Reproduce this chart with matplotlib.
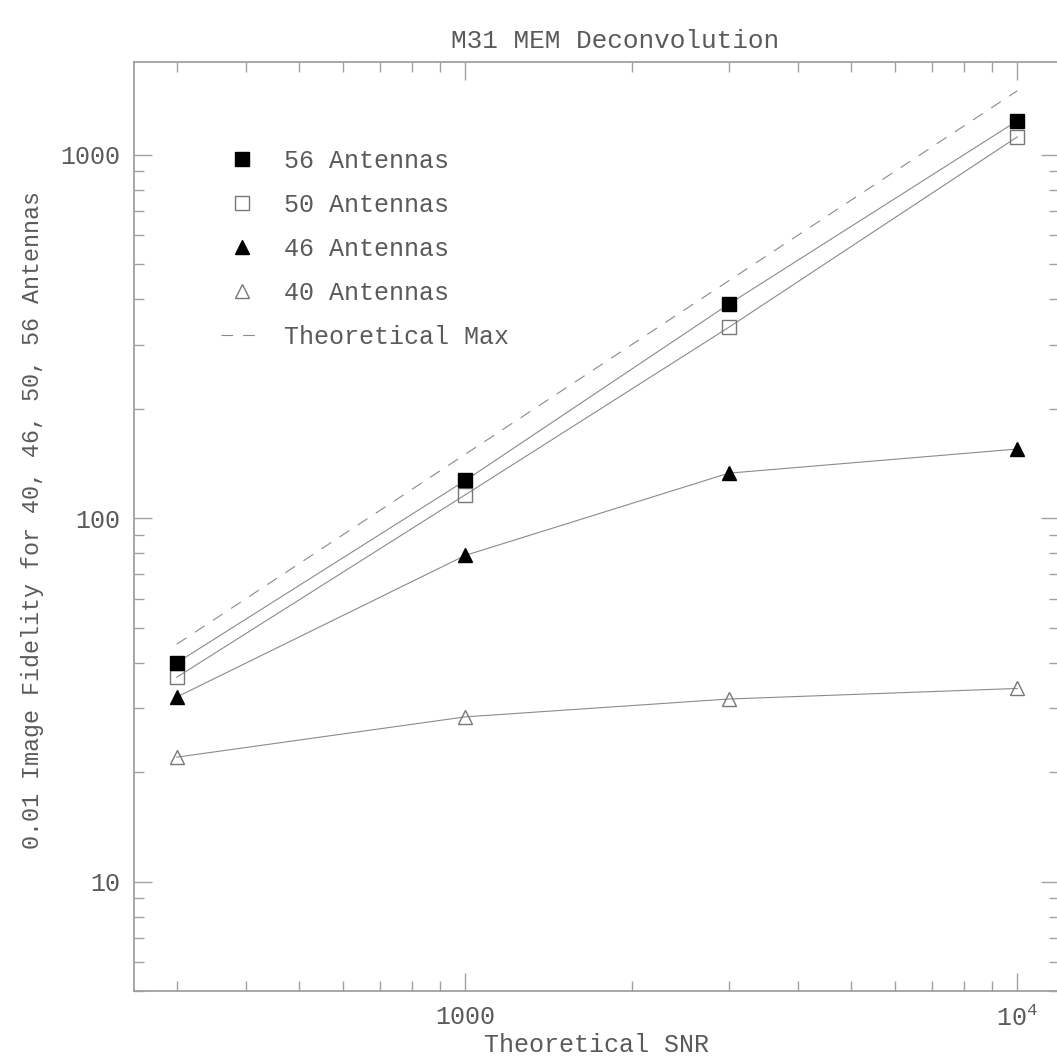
import matplotlib
matplotlib.use("Agg")
import matplotlib.pyplot as plt
from matplotlib.lines import Line2D
from matplotlib.ticker import FixedLocator, FixedFormatter, NullFormatter

# ---- data ----
snr = [300, 1000, 3000, 10000]
ant56 = [40, 127, 388, 1240]
ant50 = [36.5, 116, 335, 1120]
ant46 = [32.2, 79, 133, 155]
ant40 = [22, 28.4, 31.8, 34]
theory_max = [45, 150, 450, 1500]
series_labels = ["56 Antennas", "50 Antennas", "46 Antennas", "40 Antennas", "Theoretical Max"]
xtick_vals = [1000, 10000]
xtick_labels = ["1000", r"$10^4$"]
ytick_vals = [10, 100, 1000]
ytick_labels = ["10", "100", "1000"]

FONT = "Liberation Mono"
TXT = "#5a5a5a"
LINE = "#8a8a8a"
AX = "#a0a0a0"
FS = 18

plt.rcParams["font.family"] = [FONT, "DejaVu Sans"]
plt.rcParams["mathtext.fontset"] = "custom"
plt.rcParams["mathtext.rm"] = FONT

W, H = 1057, 1064
fig = plt.figure(figsize=(W / 100, H / 100), dpi=100)
L, R, T, B = 134, 1059, 62, 991
ax = fig.add_axes([L / W, 1 - B / H, (R - L) / W, (B - T) / H])
ax.set_xscale("log")
ax.set_yscale("log")
ax.set_xlim(251, 11900)
ax.set_ylim(5, 1800)

lw = 0.8
ms = 10
ax.plot(snr, theory_max, color=LINE, lw=lw, ls=(0, (10.5, 9)))
ax.plot(snr, ant40, color=LINE, lw=lw, marker="^", ms=ms, mfc="none", mec="#777777", mew=1.0)
ax.plot(snr, ant46, color=LINE, lw=lw, marker="^", ms=ms, mfc="black", mec="black", mew=1.0)
ax.plot(snr, ant50, color=LINE, lw=lw, marker="s", ms=ms - 0.5, mfc="none", mec="#777777", mew=1.0)
ax.plot(snr, ant56, color=LINE, lw=lw, marker="s", ms=ms - 0.5, mfc="black", mec="black", mew=1.0)

for s in ax.spines.values():
    s.set_color(AX)
    s.set_linewidth(1.3)

ax.xaxis.set_major_locator(FixedLocator(xtick_vals))
ax.xaxis.set_major_formatter(FixedFormatter(xtick_labels))
ax.yaxis.set_major_locator(FixedLocator(ytick_vals))
ax.yaxis.set_major_formatter(FixedFormatter(ytick_labels))
ax.xaxis.set_minor_formatter(NullFormatter())
ax.yaxis.set_minor_formatter(NullFormatter())
ax.tick_params(which="both", direction="in", top=True, right=True, color=AX,
               width=1.0, labelcolor=TXT, labelsize=FS)
ax.tick_params(which="major", length=13, pad=10)
ax.tick_params(which="minor", length=7)

# legend
handles = [
    Line2D([], [], ls="none", marker="s", ms=ms - 0.5, mfc="black", mec="black"),
    Line2D([], [], ls="none", marker="s", ms=ms - 0.5, mfc="none", mec="#777777"),
    Line2D([], [], ls="none", marker="^", ms=ms, mfc="black", mec="black"),
    Line2D([], [], ls="none", marker="^", ms=ms, mfc="none", mec="#777777"),
    Line2D([], [], color=LINE, lw=lw, ls=(0, (10.5, 9))),
]
leg = ax.legend(handles, series_labels, loc="upper left",
                bbox_to_anchor=(221 / W, 1 - 149 / H), bbox_transform=fig.transFigure,
                frameon=False, fontsize=FS, handlelength=1.67, handletextpad=0.85,
                labelspacing=0.80, borderpad=0, borderaxespad=0)
for t in leg.get_texts():
    t.set_color(TXT)

fig.text(615 / W, 1 - 41 / H, "M31 MEM Deconvolution", ha="center", va="center",
         fontsize=18.8, color=TXT)
fig.text(597 / W, 1 - 1045 / H, "Theoretical SNR", ha="center", va="center",
         fontsize=FS, color=TXT)
fig.text(33 / W, 1 - 520 / H, "0.01 Image Fidelity for 40, 46, 50, 56 Antennas",
         ha="center", va="center", rotation=90, fontsize=16.8, color=TXT)

fig.savefig("out.png", dpi=100)
